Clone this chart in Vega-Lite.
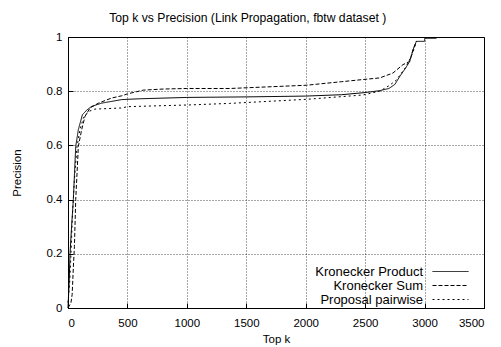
{
  "$schema": "https://vega.github.io/schema/vega-lite/v6.json",
  "width": 416,
  "height": 271,
  "autosize": {"type": "none"},
  "padding": {"left": 68, "top": 37, "right": 17, "bottom": 39},
  "background": "white",
  "title": {"text": "Top k vs Precision (Link Propagation, fbtw dataset )", "font": "Liberation Sans", "fontSize": 12.2, "fontWeight": "normal", "color": "#000", "anchor": "middle", "frame": "bounds", "offset": 7},
  "config": {
    "view": {"stroke": "#000", "strokeWidth": 1},
    "axis": {
      "labelFont": "Liberation Sans", "labelFontSize": 11.5, "labelColor": "#000",
      "titleFont": "Liberation Sans", "titleFontSize": 11.5, "titleFontWeight": "normal", "titleColor": "#000",
      "domainColor": "#000", "tickColor": "#000", "tickSize": -5,
      "gridColor": "#000", "gridDash": [1, 2], "gridOpacity": 0.7, "gridWidth": 1
    },
    "legend": {"labelFont": "Liberation Sans", "labelFontSize": 13, "labelColor": "#000"}
  },
  "data": {"values": [
    {"k": 0, "p": 0, "m": "Kronecker Product"},
    {"k": 10, "p": 0.1, "m": "Kronecker Product"},
    {"k": 17, "p": 0.2, "m": "Kronecker Product"},
    {"k": 30, "p": 0.3, "m": "Kronecker Product"},
    {"k": 45, "p": 0.4, "m": "Kronecker Product"},
    {"k": 55, "p": 0.5, "m": "Kronecker Product"},
    {"k": 65, "p": 0.596, "m": "Kronecker Product"},
    {"k": 87, "p": 0.658, "m": "Kronecker Product"},
    {"k": 121, "p": 0.713, "m": "Kronecker Product"},
    {"k": 157, "p": 0.73, "m": "Kronecker Product"},
    {"k": 199, "p": 0.744, "m": "Kronecker Product"},
    {"k": 284, "p": 0.756, "m": "Kronecker Product"},
    {"k": 452, "p": 0.769, "m": "Kronecker Product"},
    {"k": 600, "p": 0.772, "m": "Kronecker Product"},
    {"k": 1000, "p": 0.777, "m": "Kronecker Product"},
    {"k": 1500, "p": 0.779, "m": "Kronecker Product"},
    {"k": 2000, "p": 0.782, "m": "Kronecker Product"},
    {"k": 2300, "p": 0.787, "m": "Kronecker Product"},
    {"k": 2500, "p": 0.795, "m": "Kronecker Product"},
    {"k": 2623, "p": 0.802, "m": "Kronecker Product"},
    {"k": 2700, "p": 0.81, "m": "Kronecker Product"},
    {"k": 2750, "p": 0.825, "m": "Kronecker Product"},
    {"k": 2792, "p": 0.855, "m": "Kronecker Product"},
    {"k": 2840, "p": 0.885, "m": "Kronecker Product"},
    {"k": 2875, "p": 0.91, "m": "Kronecker Product"},
    {"k": 2903, "p": 0.953, "m": "Kronecker Product"},
    {"k": 2931, "p": 0.984, "m": "Kronecker Product"},
    {"k": 3000, "p": 0.984, "m": "Kronecker Product"},
    {"k": 3001, "p": 0.995, "m": "Kronecker Product"},
    {"k": 3100, "p": 0.995, "m": "Kronecker Product"},
    {"k": 0, "p": 0, "m": "Kronecker Sum"},
    {"k": 25, "p": 0.02, "m": "Kronecker Sum"},
    {"k": 35, "p": 0.05, "m": "Kronecker Sum"},
    {"k": 45, "p": 0.15, "m": "Kronecker Sum"},
    {"k": 54, "p": 0.227, "m": "Kronecker Sum"},
    {"k": 65, "p": 0.4, "m": "Kronecker Sum"},
    {"k": 87, "p": 0.596, "m": "Kronecker Sum"},
    {"k": 115, "p": 0.658, "m": "Kronecker Sum"},
    {"k": 143, "p": 0.707, "m": "Kronecker Sum"},
    {"k": 185, "p": 0.738, "m": "Kronecker Sum"},
    {"k": 256, "p": 0.756, "m": "Kronecker Sum"},
    {"k": 368, "p": 0.775, "m": "Kronecker Sum"},
    {"k": 452, "p": 0.783, "m": "Kronecker Sum"},
    {"k": 500, "p": 0.79, "m": "Kronecker Sum"},
    {"k": 633, "p": 0.804, "m": "Kronecker Sum"},
    {"k": 800, "p": 0.808, "m": "Kronecker Sum"},
    {"k": 1000, "p": 0.81, "m": "Kronecker Sum"},
    {"k": 1361, "p": 0.81, "m": "Kronecker Sum"},
    {"k": 2006, "p": 0.822, "m": "Kronecker Sum"},
    {"k": 2300, "p": 0.835, "m": "Kronecker Sum"},
    {"k": 2481, "p": 0.843, "m": "Kronecker Sum"},
    {"k": 2623, "p": 0.849, "m": "Kronecker Sum"},
    {"k": 2734, "p": 0.867, "m": "Kronecker Sum"},
    {"k": 2818, "p": 0.898, "m": "Kronecker Sum"},
    {"k": 2875, "p": 0.91, "m": "Kronecker Sum"},
    {"k": 2903, "p": 0.953, "m": "Kronecker Sum"},
    {"k": 2931, "p": 0.984, "m": "Kronecker Sum"},
    {"k": 0, "p": 0.02, "m": "Proposal pairwise"},
    {"k": 15, "p": 0.1, "m": "Proposal pairwise"},
    {"k": 25, "p": 0.2, "m": "Proposal pairwise"},
    {"k": 38, "p": 0.35, "m": "Proposal pairwise"},
    {"k": 55, "p": 0.48, "m": "Proposal pairwise"},
    {"k": 76, "p": 0.596, "m": "Proposal pairwise"},
    {"k": 101, "p": 0.658, "m": "Proposal pairwise"},
    {"k": 129, "p": 0.701, "m": "Proposal pairwise"},
    {"k": 171, "p": 0.725, "m": "Proposal pairwise"},
    {"k": 227, "p": 0.734, "m": "Proposal pairwise"},
    {"k": 452, "p": 0.738, "m": "Proposal pairwise"},
    {"k": 500, "p": 0.743, "m": "Proposal pairwise"},
    {"k": 1000, "p": 0.749, "m": "Proposal pairwise"},
    {"k": 1361, "p": 0.755, "m": "Proposal pairwise"},
    {"k": 2006, "p": 0.77, "m": "Proposal pairwise"},
    {"k": 2481, "p": 0.786, "m": "Proposal pairwise"},
    {"k": 2622, "p": 0.8, "m": "Proposal pairwise"},
    {"k": 2700, "p": 0.82, "m": "Proposal pairwise"},
    {"k": 2760, "p": 0.84, "m": "Proposal pairwise"},
    {"k": 2844, "p": 0.89, "m": "Proposal pairwise"},
    {"k": 2900, "p": 0.94, "m": "Proposal pairwise"},
    {"k": 2931, "p": 0.984, "m": "Proposal pairwise"}
  ]},
  "mark": {"type": "line", "color": "#000", "strokeWidth": 1},
  "encoding": {
    "x": {"field": "k", "type": "quantitative", "title": "Top k",
      "scale": {"domain": [0, 3500], "nice": false},
      "axis": {"values": [0, 500, 1000, 1500, 2000, 2500, 3000, 3500], "format": "d", "labelPadding": 14, "titlePadding": 5}},
    "y": {"field": "p", "type": "quantitative", "title": "Precision",
      "scale": {"domain": [0, 1], "nice": false},
      "axis": {"values": [0, 0.2, 0.4, 0.6, 0.8, 1], "format": "~g", "labelPadding": 11, "titlePadding": 24}},
    "strokeDash": {"field": "m", "type": "nominal",
      "scale": {"domain": ["Kronecker Product", "Kronecker Sum", "Proposal pairwise"], "range": [[1, 0], [4, 2], [2, 3]]},
      "legend": {"title": null, "orient": "none", "legendX": 376, "legendY": 228, "symbolType": "M-3,0H3", "symbolSize": 144, "symbolStrokeColor": "#000", "symbolStrokeWidth": 1, "labelAlign": "right", "labelOffset": -34, "rowPadding": -1}}
  }
}
